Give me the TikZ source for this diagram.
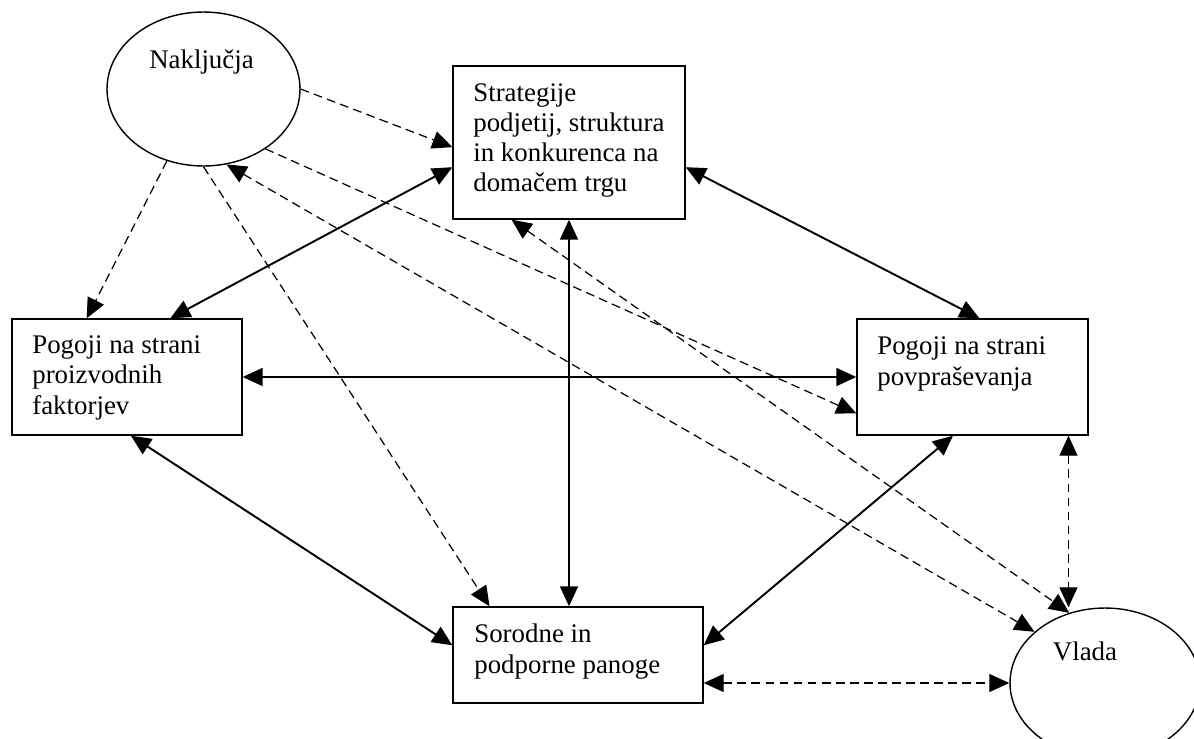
\documentclass[tikz,border=0pt]{standalone}
\usepackage{fontspec}
\setmainfont{Liberation Serif}
\usetikzlibrary{arrows.meta,shapes.geometric,calc}

\begin{document}
\begin{tikzpicture}[x=0.02cm,y=-0.02cm,>={Triangle[length=4mm,width=3.6mm]},
  box/.style={draw,line width=0.8pt,inner sep=0pt},
  oval/.style={draw,ellipse,line width=0.8pt,inner sep=0pt},
  txt/.style={anchor=base west,align=left,inner sep=0pt,font=\fontsize{15.3}{17.1}\selectfont},
  solidarr/.style={<->,line width=1.1pt},
  dasharr/.style={line width=0.7pt,dash pattern=on 5pt off 3pt}]
\useasboundingbox (0,0) rectangle (1194,738);
\clip (0,0) rectangle (1194,738);

% chance and government
\node[oval,minimum width=3.86cm,minimum height=3.08cm] (nak) at (203.5,89) {};
\node[txt,anchor=base] (nak-t) at (201.5,68.3) {Naključja};
\node[oval,minimum width=3.8cm,minimum height=3cm] (vlada) at (1105,683) {};
\node[txt,anchor=base] (vlada-t) at (1085,660) {Vlada};

% the four boxes (text placed by its last baseline)
\node[box,minimum width=4.64cm,minimum height=3.06cm] (strat) at (569,142.5) {};
\node[box,minimum width=4.6cm,minimum height=2.32cm] (proiz) at (127,377) {};
\node[box,minimum width=4.62cm,minimum height=2.32cm] (povp) at (972.5,377) {};
\node[box,minimum width=5cm,minimum height=1.92cm] (sorod) at (578,655) {};
\node[txt] (strat-t) at (473,191.7) {Strategije\\podjetij, struktura\\in konkurenca na\\domačem trgu};
\node[txt] (proiz-t) at (32,414) {Pogoji na strani\\proizvodnih\\faktorjev};
\node[txt] (povp-t) at (877,385) {Pogoji na strani\\povpraševanja};
\node[txt] (sorod-t) at (474,673) {Sorodne in\\podporne panoge};

% solid links
\draw[solidarr] ($(strat.north west)!0.66!(strat.south west)$) -- ($(proiz.north west)!0.687!(proiz.north east)$);
\draw[solidarr] ($(strat.north east)!0.66!(strat.south east)$) -- ($(povp.north west)!0.53!(povp.north east)$);
\draw[solidarr] (strat.south) -- (strat.south |- sorod.north);
\draw[solidarr] (proiz.east) -- (povp.west);
\draw[solidarr] ($(proiz.south west)!0.517!(proiz.south east)$) -- ($(sorod.north west)!0.4!(sorod.south west)$);
\draw[solidarr] ($(povp.south west)!0.416!(povp.south east)$) -- ($(sorod.north east)!0.4!(sorod.south east)$);

% dashed links
\draw[dasharr,->] (nak.east) -- ($(strat.north west)!0.53!(strat.south west)$);
\draw[dasharr,->] (nak) -- ($(proiz.north west)!0.326!(proiz.north east)$);
\draw[dasharr,->] (nak.south) -- ($(sorod.north west)!0.148!(sorod.north east)$);
\draw[dasharr,->] (nak.-44) -- ($(povp.north west)!0.81!(povp.south west)$);
\draw[dasharr,<->] (nak.-73) -- (vlada.144);
\draw[dasharr,<->] ($(strat.south west)!0.254!(strat.south east)$) -- (vlada.117);
\draw[dasharr,<->] ($(povp.south west)!0.913!(povp.south east)$) coordinate (pv) -- (pv |- vlada.north);
\draw[dasharr,<->] (sorod.east |- vlada.west) -- (vlada.west);
\end{tikzpicture}
\end{document}
